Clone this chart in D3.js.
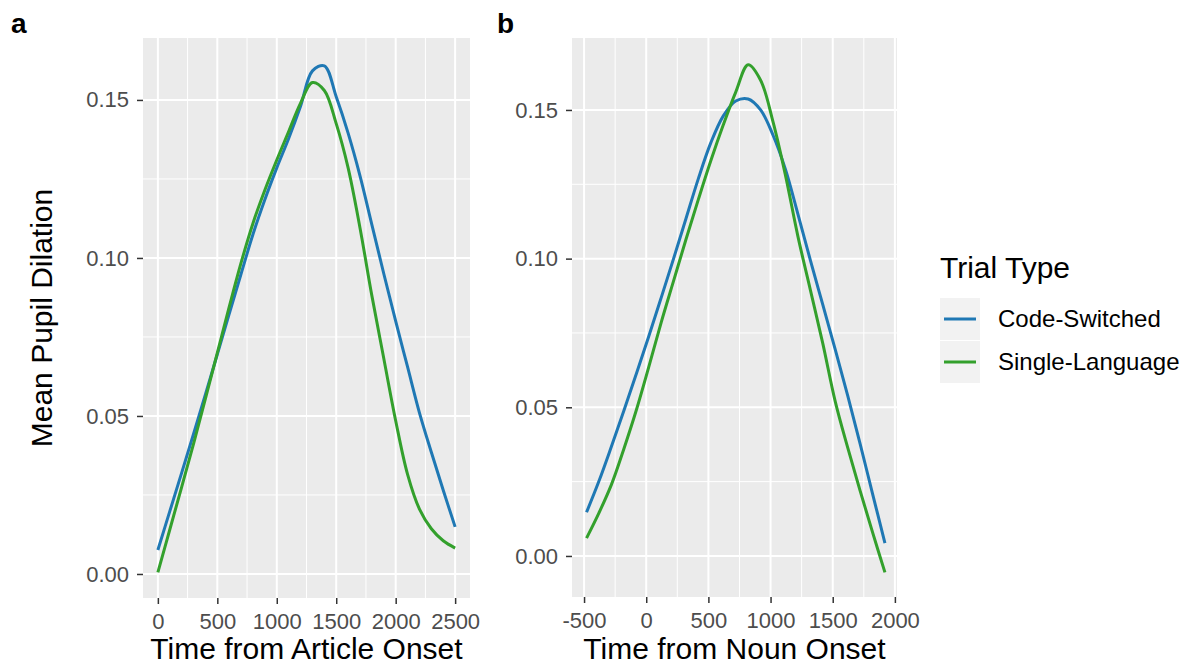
<!DOCTYPE html>
<html>
<head>
<meta charset="utf-8">
<script src="https://cdn.jsdelivr.net/npm/d3@7"></script>
<style>
	body { margin: 0; background: #fff; }
	text { font-family: "Liberation Sans", Arial, sans-serif; }
</style>
</head>
<body>
<div id="chart"></div>
<script>
// panel a: time from article onset
var timeA = [0, 100, 200, 300, 400, 500, 600, 700, 800, 900, 1000, 1100, 1200,
	1300, 1400, 1500, 1600, 1700, 1800, 1900, 2000, 2100, 2200, 2300, 2400, 2500];
var codeSwitchedA = [0.0076, 0.0198, 0.0320, 0.0443, 0.0568, 0.0695, 0.0823, 0.0950,
	0.1075, 0.1185, 0.1285, 0.1378, 0.1480, 0.1592, 0.1608, 0.1510, 0.1395, 0.1260,
	0.1105, 0.0950, 0.0800, 0.0655, 0.0510, 0.0385, 0.0265, 0.0149];
var singleLangA = [0.0005, 0.0140, 0.0275, 0.0412, 0.0555, 0.0700, 0.0845, 0.0985,
	0.1110, 0.1215, 0.1310, 0.1400, 0.1490, 0.1555, 0.1530, 0.1425, 0.1285, 0.1095,
	0.0880, 0.0682, 0.0485, 0.0315, 0.0205, 0.0143, 0.0105, 0.0082];

// panel b: time from noun onset
var timeB = [-480, -380, -280, -180, -80, 20, 120, 220, 320, 420, 520, 620, 720,
	820, 920, 1020, 1120, 1220, 1320, 1420, 1520, 1620, 1720, 1820, 1920];
var codeSwitchedB = [0.0147, 0.0252, 0.0368, 0.0488, 0.0612, 0.0738, 0.0868, 0.1000,
	0.1135, 0.1270, 0.1390, 0.1480, 0.1530, 0.1537, 0.1500, 0.1415, 0.1300, 0.1150,
	0.0995, 0.0845, 0.0695, 0.0540, 0.0378, 0.0210, 0.0043];
var singleLangB = [0.0060, 0.0145, 0.0240, 0.0360, 0.0490, 0.0635, 0.0785, 0.0925,
	0.1065, 0.1200, 0.1330, 0.1450, 0.1560, 0.1652, 0.1600, 0.1460, 0.1280, 0.1075,
	0.0895, 0.0715, 0.0520, 0.0365, 0.0220, 0.0080, -0.0055];

var xTicksA = [0, 500, 1000, 1500, 2000, 2500];
var xMinorA = [250, 750, 1250, 1750, 2250];
var xTicksB = [-500, 0, 500, 1000, 1500, 2000];
var xMinorB = [-250, 250, 750, 1250, 1750];
var yTicks = [0, 0.05, 0.10, 0.15];
var yMinor = [0.025, 0.075, 0.125];

var seriesNames = ["Code-Switched", "Single-Language"];
var seriesColors = ["#1F78B4", "#33A02C"];

var svg = d3.select("#chart")
	.append("svg")
	.attr("width", 1194)
	.attr("height", 668)
	.style("background", "#fff");

function drawPanel(opt) {
	var x = d3.scaleLinear().domain(opt.xDomain).range([opt.left, opt.right]);
	var y = d3.scaleLinear().domain(opt.yDomain).range([opt.bottom, opt.top]);

	var g = svg.append("g");

	g.append("rect")
		.attr("x", opt.left)
		.attr("y", opt.top)
		.attr("width", opt.right - opt.left)
		.attr("height", opt.bottom - opt.top)
		.style("fill", "#EBEBEB");

	// minor grid
	g.selectAll(".vminor")
		.data(opt.xMinor)
		.enter()
		.append("line")
		.attr("x1", d => x(d)).attr("x2", d => x(d))
		.attr("y1", opt.top).attr("y2", opt.bottom)
		.style("stroke", "#fff").style("stroke-width", 1);
	g.selectAll(".hminor")
		.data(yMinor)
		.enter()
		.append("line")
		.attr("x1", opt.left).attr("x2", opt.right)
		.attr("y1", d => y(d)).attr("y2", d => y(d))
		.style("stroke", "#fff").style("stroke-width", 1);

	// major grid
	g.selectAll(".vmajor")
		.data(opt.xTicks)
		.enter()
		.append("line")
		.attr("x1", d => x(d)).attr("x2", d => x(d))
		.attr("y1", opt.top).attr("y2", opt.bottom)
		.style("stroke", "#fff").style("stroke-width", 2);
	g.selectAll(".hmajor")
		.data(yTicks)
		.enter()
		.append("line")
		.attr("x1", opt.left).attr("x2", opt.right)
		.attr("y1", d => y(d)).attr("y2", d => y(d))
		.style("stroke", "#fff").style("stroke-width", 2);

	// smoothed lines
	var line = d3.line()
		.x(d => x(d[0]))
		.y(d => y(d[1]))
		.curve(d3.curveCatmullRom);

	opt.series.forEach(function (vals, i) {
		g.append("path")
			.datum(opt.time.map((t, j) => [t, vals[j]]))
			.attr("d", line)
			.style("fill", "none")
			.style("stroke", seriesColors[i])
			.style("stroke-width", 3);
	});

	// axes
	var xAxis = d3.axisBottom(x)
		.tickValues(opt.xTicks)
		.tickFormat(d => String(d))
		.tickSize(6)
		.tickPadding(9);
	var yAxis = d3.axisLeft(y)
		.tickValues(yTicks)
		.tickFormat(d3.format(".2f"))
		.tickSize(6)
		.tickPadding(8);

	var gx = g.append("g")
		.attr("transform", "translate(0," + opt.bottom + ")")
		.call(xAxis);
	var gy = g.append("g")
		.attr("transform", "translate(" + opt.left + ",0)")
		.call(yAxis);

	[gx, gy].forEach(function (a) {
		a.select(".domain").remove();
		a.selectAll(".tick line").style("stroke", "#333").style("stroke-width", 1.5);
		a.selectAll(".tick text")
			.style("fill", "#4D4D4D")
			.style("font-size", "22px")
			.style("font-family", '"Liberation Sans", Arial, sans-serif');
	});

	g.append("text")
		.attr("x", (opt.left + opt.right) / 2)
		.attr("y", 659)
		.style("text-anchor", "middle")
		.style("font-size", "30px")
		.style("fill", "#000")
		.text(opt.xTitle);

	g.append("text")
		.attr("x", opt.labelX)
		.attr("y", 33)
		.style("font-size", "28px")
		.style("font-weight", "bold")
		.style("fill", "#000")
		.text(opt.label);
}

drawPanel({
	left: 143, right: 470, top: 38, bottom: 598,
	xDomain: [-125, 2625], yDomain: [-0.0076, 0.1696],
	xTicks: xTicksA, xMinor: xMinorA,
	time: timeA, series: [codeSwitchedA, singleLangA],
	xTitle: "Time from Article Onset", label: "a", labelX: 11
});

drawPanel({
	left: 572, right: 897, top: 38, bottom: 597,
	xDomain: [-597, 2017], yDomain: [-0.0138, 0.1742],
	xTicks: xTicksB, xMinor: xMinorB,
	time: timeB, series: [codeSwitchedB, singleLangB],
	xTitle: "Time from Noun Onset", label: "b", labelX: 497
});

// y axis title
svg.append("text")
	.attr("transform", "translate(52," + (38 + 598) / 2 + ") rotate(-90)")
	.style("text-anchor", "middle")
	.style("font-size", "30px")
	.style("fill", "#000")
	.text("Mean Pupil Dilation");

// legend
var legend = svg.append("g");
legend.append("text")
	.attr("x", 940)
	.attr("y", 278)
	.style("font-size", "30px")
	.style("fill", "#000")
	.text("Trial Type");

seriesNames.forEach(function (name, i) {
	var cy = 319 + i * 43;
	legend.append("rect")
		.attr("x", 940)
		.attr("y", cy - 21)
		.attr("width", 40)
		.attr("height", 42)
		.style("fill", "#F2F2F2");
	legend.append("line")
		.attr("x1", 944).attr("x2", 976)
		.attr("y1", cy).attr("y2", cy)
		.style("stroke", seriesColors[i])
		.style("stroke-width", 3);
	legend.append("text")
		.attr("x", 998)
		.attr("y", cy)
		.attr("dy", "0.35em")
		.style("font-size", "24px")
		.style("fill", "#000")
		.text(name);
});
</script>
</body>
</html>
